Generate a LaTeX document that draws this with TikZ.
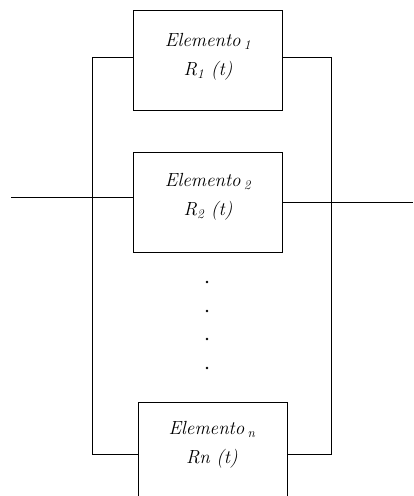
\documentclass[tikz,border=0pt]{standalone}
\usetikzlibrary{calc}
\begin{document}
\begin{tikzpicture}[x=1pt,y=-1pt,
  box/.style={draw,line width=0.9pt,minimum width=149pt,minimum height=100pt,inner sep=0pt},
  lbl/.style={align=center,font=\fontsize{19}{29}\selectfont\itshape,inner sep=0pt},
  wire/.style={line width=0.9pt},
  dot/.style={fill,circle,inner sep=0pt,minimum size=2.6pt}]
\path[use as bounding box] (0,0) rectangle (414,496);
\clip (0,0) rectangle (414,496);
\node[box] (e1) at (208,60) {};
\node[box] (e2) at (207.5,202) {};
\node[box,minimum height=104pt] (en) at (212.5,454) {};
\node[lbl] (t1) at (208,57) {Elemento\,\textsubscript{\itshape 1}\\R\textsubscript{\itshape 1} (t)};
\node[lbl] (t2) at (208,197) {Elemento\,\textsubscript{\itshape 2}\\R\textsubscript{\itshape 2} (t)};
\node[lbl] (tn) at (212,445) {Elemento\,\textsubscript{\itshape n}\\Rn (t)};
\node[dot] (d1) at (207,282) {};
\node[dot] (d2) at (207,311) {};
\node[dot] (d3) at (207,339) {};
\node[dot] (d4) at (207,368) {};
\coordinate (lb) at (92,57);
\coordinate (rb) at (331,57);
\coordinate (in) at (11,197);
\coordinate (out) at (413,202);
\draw[wire] (e1.west |- lb) -- (lb) |- (en.west);
\draw[wire] (e1.east |- rb) -- (rb) |- (en.east);
\draw[wire] (in) -- (in -| e2.west);
\draw[wire] (e2.east) -- (out);
\end{tikzpicture}
\end{document}
